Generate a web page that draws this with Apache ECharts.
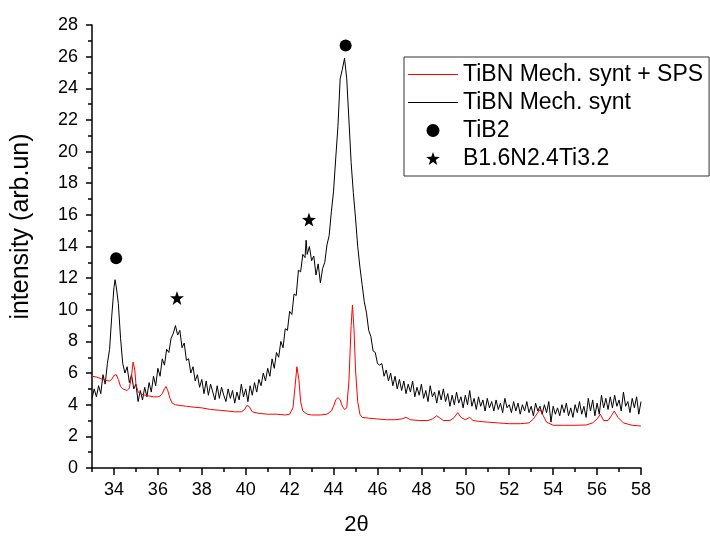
<!DOCTYPE html>
<html>
<head>
<meta charset="utf-8">
<script src="https://cdn.jsdelivr.net/npm/echarts@6/dist/echarts.min.js"></script>
<style>html,body{margin:0;padding:0;background:#fff}#c{width:710px;height:536px}</style>
</head>
<body>
<div id="c"></div>
<script>
// ---- data ----
const seriesNames = ['TiBN Mech. synt + SPS', 'TiBN Mech. synt', 'TiB2', 'B1.6N2.4Ti3.2'];
const xTickLabels = [34, 36, 38, 40, 42, 44, 46, 48, 50, 52, 54, 56, 58];
const xMinorTicks = [33, 35, 37, 39, 41, 43, 45, 47, 49, 51, 53, 55, 57];

const sps = [
 [33.0,5.8],[33.2,5.75],[33.4,5.65],[33.6,5.55],[33.8,5.5],[33.9,5.6],[34.0,5.85],[34.1,5.9],[34.2,5.6],[34.3,5.15],
 [34.4,5.0],[34.5,4.95],[34.6,4.9],[34.7,5.05],[34.8,5.8],[34.87,6.7],[34.95,6.2],[35.0,5.3],[35.1,4.8],[35.2,4.7],
 [35.4,4.6],[35.6,4.55],[35.8,4.5],[36.0,4.5],[36.1,4.55],[36.2,4.7],[36.3,5.0],[36.37,5.15],[36.45,4.9],[36.55,4.4],
 [36.65,4.1],[36.8,4.0],[37.0,3.95],[37.3,3.9],[37.6,3.85],[38.0,3.8],[38.4,3.7],[38.8,3.65],[39.2,3.6],[39.5,3.55],
 [39.8,3.55],[39.95,3.7],[40.05,3.95],[40.15,3.9],[40.3,3.55],[40.6,3.45],[41.0,3.4],[41.4,3.4],[41.8,3.35],[42.0,3.4],
 [42.15,3.8],[42.25,5.2],[42.33,6.4],[42.42,5.6],[42.5,4.2],[42.6,3.6],[42.8,3.4],[43.0,3.35],[43.4,3.35],[43.7,3.4],
 [43.9,3.6],[44.0,3.9],[44.1,4.3],[44.2,4.45],[44.3,4.3],[44.4,3.9],[44.5,3.7],[44.6,3.8],[44.7,5.5],[44.8,9.0],
 [44.86,10.3],[44.93,8.8],[45.0,6.2],[45.1,4.2],[45.2,3.4],[45.3,3.2],[45.6,3.15],[46.0,3.1],[46.4,3.05],[46.8,3.05],
 [47.1,3.1],[47.3,3.2],[47.5,3.05],[47.9,3.0],[48.3,3.0],[48.5,3.1],[48.7,3.3],[48.85,3.15],[49.0,3.0],[49.3,3.0],
 [49.5,3.2],[49.65,3.5],[49.8,3.2],[50.0,3.05],[50.2,3.2],[50.35,3.0],[50.6,2.95],[51.0,2.9],[51.5,2.85],[52.0,2.8],
 [52.5,2.8],[52.9,2.85],[53.1,3.1],[53.3,3.5],[53.4,3.7],[53.55,3.3],[53.7,2.9],[54.0,2.7],[54.5,2.7],[55.0,2.7],
 [55.5,2.72],[55.8,2.85],[56.0,3.1],[56.15,3.4],[56.3,3.0],[56.5,3.0],[56.65,3.3],[56.78,3.6],[56.95,3.2],[57.2,2.85],
 [57.6,2.7],[58.0,2.65]
];

const synt = [
 [33.0,4.4],[33.1,5.0],[33.2,4.5],[33.3,5.2],[33.4,4.7],[33.5,5.9],[33.6,5.3],[33.7,6.6],[33.8,7.5],[33.9,9.6],
 [34.0,11.4],[34.05,11.9],[34.1,11.5],[34.2,10.4],[34.3,8.2],[34.4,6.6],[34.5,6.0],[34.6,6.4],[34.7,5.4],[34.8,5.9],
 [34.9,5.0],[35.0,5.3],[35.1,4.2],[35.2,4.9],[35.3,4.3],[35.4,5.1],[35.5,4.5],[35.6,5.4],[35.7,4.8],[35.8,5.8],
 [35.9,5.2],[36.0,6.3],[36.1,5.8],[36.2,6.9],[36.3,6.5],[36.4,7.5],[36.5,7.3],[36.6,8.2],[36.7,8.5],[36.8,9.0],
 [36.9,8.4],[37.0,8.7],[37.1,7.6],[37.2,7.9],[37.3,6.8],[37.4,6.9],[37.5,6.0],[37.6,6.4],[37.7,5.5],[37.8,5.9],
 [37.9,5.1],[38.0,5.6],[38.1,4.7],[38.2,5.5],[38.3,4.6],[38.4,5.3],[38.5,4.8],[38.6,4.3],[38.7,5.2],[38.8,4.4],
 [38.9,5.1],[39.0,4.6],[39.1,4.2],[39.2,5.0],[39.3,4.4],[39.4,4.9],[39.5,4.1],[39.6,4.8],[39.7,4.3],[39.8,5.3],
 [39.9,4.5],[40.0,5.0],[40.1,4.2],[40.2,5.2],[40.3,4.6],[40.4,5.4],[40.5,4.8],[40.6,5.6],[40.7,5.2],[40.8,6.0],
 [40.9,5.5],[41.0,6.3],[41.1,5.8],[41.2,6.9],[41.3,6.3],[41.4,7.3],[41.5,7.0],[41.6,8.0],[41.7,7.6],[41.8,8.8],
 [41.9,8.7],[42.0,9.9],[42.1,9.7],[42.2,11.0],[42.3,10.9],[42.4,12.5],[42.5,12.4],[42.6,13.5],[42.7,13.3],[42.75,14.4],
 [42.8,13.5],[42.9,14.0],[43.0,13.1],[43.1,13.4],[43.2,12.2],[43.3,12.9],[43.4,11.7],[43.5,12.6],[43.6,13.0],[43.7,14.1],
 [43.8,14.7],[43.9,16.2],[44.0,17.5],[44.1,19.6],[44.2,21.6],[44.3,24.6],[44.4,25.2],[44.5,25.9],[44.6,24.6],[44.7,22.0],
 [44.8,19.3],[44.9,17.4],[45.0,15.8],[45.1,14.0],[45.2,12.7],[45.3,11.6],[45.4,10.5],[45.5,9.8],[45.6,8.7],[45.7,8.3],
 [45.8,7.4],[45.9,7.3],[46.0,6.6],[46.1,6.5],[46.2,6.6],[46.3,5.8],[46.4,6.2],[46.5,5.5],[46.6,6.0],[46.7,5.2],
 [46.8,5.8],[46.9,5.0],[47.0,5.6],[47.1,4.9],[47.2,5.5],[47.3,4.7],[47.4,5.3],[47.5,4.8],[47.6,5.5],[47.7,4.5],
 [47.8,5.1],[47.9,4.6],[48.0,5.3],[48.1,4.4],[48.2,4.9],[48.3,4.2],[48.4,5.2],[48.5,4.5],[48.6,4.8],[48.7,4.1],
 [48.8,4.9],[48.9,4.3],[49.0,5.0],[49.1,4.2],[49.2,4.7],[49.3,3.9],[49.4,4.6],[49.5,4.0],[49.6,4.8],[49.7,4.1],
 [49.8,4.5],[49.9,3.8],[50.0,4.6],[50.1,4.0],[50.2,4.9],[50.3,3.9],[50.4,4.4],[50.5,3.7],[50.6,4.5],[50.7,3.9],
 [50.8,4.3],[50.9,3.6],[51.0,4.4],[51.1,3.8],[51.2,4.2],[51.3,3.6],[51.4,4.3],[51.5,3.7],[51.6,4.1],[51.7,3.5],
 [51.8,4.4],[51.9,3.8],[52.0,4.0],[52.1,3.5],[52.2,4.2],[52.3,3.6],[52.4,4.1],[52.5,3.4],[52.6,4.0],[52.7,3.6],
 [52.8,4.2],[52.9,3.5],[53.0,3.9],[53.1,3.3],[53.2,4.1],[53.3,3.6],[53.4,3.9],[53.5,3.4],[53.6,4.0],[53.7,3.5],
 [53.8,4.2],[53.9,2.9],[54.0,3.9],[54.1,3.4],[54.2,3.8],[54.3,3.3],[54.4,4.0],[54.5,3.5],[54.6,4.1],[54.7,3.3],
 [54.8,3.8],[54.9,3.2],[55.0,4.0],[55.1,3.5],[55.2,4.2],[55.3,3.4],[55.4,3.9],[55.5,3.2],[55.6,4.4],[55.7,3.6],
 [55.8,4.3],[55.9,3.3],[56.0,4.1],[56.1,3.4],[56.2,4.6],[56.3,3.8],[56.4,4.4],[56.5,3.7],[56.6,4.5],[56.7,3.8],
 [56.8,4.6],[56.9,3.9],[57.0,4.3],[57.1,3.6],[57.2,4.8],[57.3,3.9],[57.4,4.2],[57.5,3.5],[57.6,4.4],[57.7,3.8],
 [57.8,4.5],[57.9,3.4],[58.0,4.2]
];

const tib2Marks = [[34.1, 13.25], [44.55, 26.7]];
const bntiMarks = [[36.87, 10.75], [42.88, 15.7]];

// ---- chart ----
const FONT = 'Liberation Sans, Arial, sans-serif';
const starPath = 'path://M0,-10 L2.35,-3.24 L9.51,-3.09 L3.8,1.24 L5.88,8.09 L0,4 L-5.88,8.09 L-3.8,1.24 L-9.51,-3.09 L-2.35,-3.24 Z';
const lineIcon = 'path://M0,0 L100,0 L100,2 L0,2 Z';
const chart = echarts.init(document.getElementById('c'), null, {renderer: 'canvas'});
chart.setOption({
  animation: false,
  backgroundColor: '#fff',
  textStyle: {fontFamily: FONT},
  grid: {left: 92, right: 69, top: 25, bottom: 68, containLabel: false, outerBoundsMode: 'none'},
  legend: {
    orient: 'vertical', left: 404, top: 57,
    padding: [6, 6, 6, 4], itemGap: 5, itemWidth: 50, itemHeight: 13,
    borderColor: '#333', borderWidth: 1, borderRadius: 0,
    textStyle: {fontSize: 23, color: '#000', fontFamily: FONT, lineHeight: 23},
    data: [
      {name: seriesNames[0], icon: lineIcon, itemStyle: {color: '#ff0000'}},
      {name: seriesNames[1], icon: lineIcon, itemStyle: {color: '#000'}},
      {name: seriesNames[2]},
      {name: seriesNames[3]}
    ]
  },
  xAxis: [{
    type: 'value', min: 33, max: 58,
    name: '2θ', nameLocation: 'middle', nameGap: 46,
    nameTextStyle: {fontSize: 22, color: '#000', fontFamily: FONT, padding: [0, 20, 0, 0]},
    axisLine: {show: true, onZero: false, lineStyle: {color: '#000', width: 1.5}},
    axisTick: {show: true, inside: false, length: 7, lineStyle: {color: '#000', width: 1.5}, customValues: xTickLabels},
    axisLabel: {show: true, fontSize: 18, color: '#000', margin: 13, fontFamily: FONT, customValues: xTickLabels},
    splitLine: {show: false}
  }, {
    type: 'value', min: 33, max: 58, position: 'bottom',
    axisLine: {show: false},
    axisTick: {show: true, inside: false, length: 4, lineStyle: {color: '#000', width: 1.5}, customValues: xMinorTicks},
    axisLabel: {show: false},
    splitLine: {show: false}
  }],
  yAxis: {
    type: 'value', min: 0, max: 28, interval: 2,
    name: 'intensity (arb.un)', nameLocation: 'middle', nameGap: 58,
    nameTextStyle: {fontSize: 25, color: '#000', fontFamily: FONT, padding: [0, 0, 0, 40]},
    axisLine: {show: true, onZero: false, lineStyle: {color: '#000', width: 1.5}},
    axisTick: {show: true, inside: false, length: 6, lineStyle: {color: '#000', width: 1.5}},
    minorTick: {show: true, splitNumber: 2, length: 4, lineStyle: {color: '#000', width: 1.5}},
    axisLabel: {fontSize: 18, color: '#000', margin: 14, fontFamily: FONT},
    splitLine: {show: false}
  },
  series: [
    {name: seriesNames[0], type: 'line', data: sps, symbol: 'none', z: 3,
     lineStyle: {color: '#ff0000', width: 1}, itemStyle: {color: '#ff0000'}},
    {name: seriesNames[1], type: 'line', data: synt, symbol: 'none', z: 2,
     lineStyle: {color: '#000', width: 1}, itemStyle: {color: '#000'}},
    {name: seriesNames[2], type: 'scatter', data: tib2Marks, symbol: 'circle', symbolSize: 12, z: 4,
     itemStyle: {color: '#000', opacity: 1}},
    {name: seriesNames[3], type: 'scatter', data: bntiMarks, symbol: starPath, symbolSize: 14, z: 4,
     itemStyle: {color: '#000', opacity: 1}}
  ]
});
</script>
</body>
</html>
